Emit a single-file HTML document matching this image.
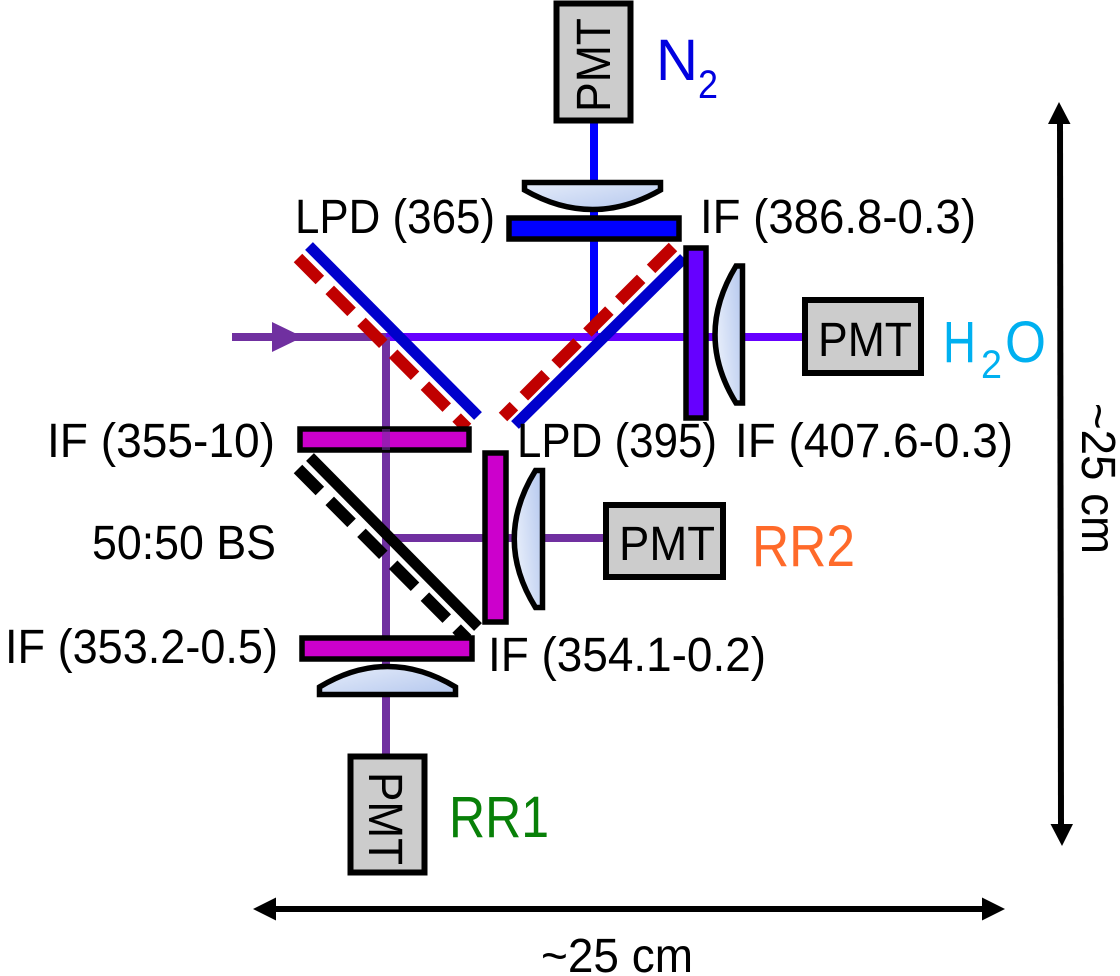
<!DOCTYPE html>
<html><head><meta charset="utf-8"><style>
html,body{margin:0;padding:0;background:#fff}
svg{display:block}
text{font-family:"Liberation Sans",sans-serif;font-size:48px;fill:#000}
</style></head><body>
<svg width="1120" height="976" viewBox="0 0 1120 976" xmlns="http://www.w3.org/2000/svg">
<defs>
<linearGradient id="g1" x1="0" y1="0" x2="1" y2="1"><stop offset="0" stop-color="#e6edfa"/><stop offset="1" stop-color="#b4c7ee"/></linearGradient>
<linearGradient id="g2" x1="1" y1="0" x2="0" y2="0.4"><stop offset="0" stop-color="#b4c7ee"/><stop offset="1" stop-color="#e6edfa"/></linearGradient>
</defs>
<!-- beams -->
<line x1="594" y1="122" x2="594" y2="337" stroke="#0000ff" stroke-width="8"/>
<line x1="232" y1="337" x2="386" y2="337" stroke="#7030a0" stroke-width="8"/>
<line x1="386" y1="337" x2="803" y2="337" stroke="#6600ff" stroke-width="8"/>
<line x1="386" y1="337" x2="386" y2="756" stroke="#7030a0" stroke-width="8"/>
<line x1="386" y1="538" x2="605" y2="538" stroke="#7030a0" stroke-width="8"/>
<polygon points="272,322 303,337 272,352" fill="#7030a0"/>
<!-- mirrors -->
<line x1="309" y1="246" x2="478" y2="416" stroke="#0000cc" stroke-width="11"/>
<line x1="298" y1="258" x2="467" y2="428" stroke="#c00000" stroke-width="12" stroke-dasharray="31 14"/>
<line x1="515" y1="425" x2="684" y2="258" stroke="#0000cc" stroke-width="11"/>
<line x1="673" y1="247" x2="503" y2="417" stroke="#c00000" stroke-width="12" stroke-dasharray="31 14"/>
<line x1="310" y1="457" x2="478" y2="627" stroke="#000" stroke-width="11"/>
<line x1="298" y1="469" x2="467" y2="639" stroke="#000" stroke-width="12" stroke-dasharray="31 14"/>
<!-- filters -->
<rect x="509" y="218" width="170" height="21" fill="#0000ff" stroke="#000" stroke-width="5.5"/>
<rect x="686" y="248" width="20" height="170" fill="#6600ff" stroke="#000" stroke-width="5.5"/>
<rect x="300" y="429" width="169" height="21" fill="#cc00cc" stroke="#000" stroke-width="5.5"/>
<rect x="485" y="453" width="21" height="169" fill="#cc00cc" stroke="#000" stroke-width="5.5"/>
<rect x="302" y="638" width="170" height="21" fill="#cc00cc" stroke="#000" stroke-width="5.5"/>
<line x1="386" y1="429" x2="386" y2="450" stroke="#7030a0" stroke-width="8" opacity=".55"/>
<!-- lenses -->
<path d="M524.5,182.5H660.5V190Q592.5,229 524.5,190Z" fill="url(#g1)" stroke="#000" stroke-width="5.5"/>
<path d="M742.5,266H736Q694,335 736,403H742.5Z" fill="url(#g2)" stroke="#000" stroke-width="5.5"/>
<path d="M542.5,470.5H535.5Q493,539 535.5,607.5H542.5Z" fill="url(#g2)" stroke="#000" stroke-width="5.5"/>
<path d="M319.5,694.5H455.5V687Q387.5,646 319.5,687Z" fill="url(#g1)" stroke="#000" stroke-width="5.5"/>
<!-- PMT boxes -->
<rect x="556.5" y="3.5" width="74" height="117" fill="#cccccc" stroke="#000" stroke-width="6"/>
<rect x="805" y="300" width="116" height="73" fill="#cccccc" stroke="#000" stroke-width="6"/>
<rect x="606" y="505" width="117" height="72" fill="#cccccc" stroke="#000" stroke-width="6"/>
<rect x="350.500" y="756.500" width="74" height="116" fill="#cccccc" stroke="#000" stroke-width="6"/>
<text transform="translate(610,112) rotate(-90)" textLength="94" lengthAdjust="spacingAndGlyphs">PMT</text>
<text x="818" y="356" textLength="94" lengthAdjust="spacingAndGlyphs">PMT</text>
<text x="619" y="560" textLength="96" lengthAdjust="spacingAndGlyphs">PMT</text>
<text transform="translate(369,772) rotate(90)" textLength="93" lengthAdjust="spacingAndGlyphs">PMT</text>
<!-- labels -->
<text x="295" y="233" textLength="200" lengthAdjust="spacingAndGlyphs">LPD (365)</text>
<text x="700" y="233" textLength="276" lengthAdjust="spacingAndGlyphs">IF (386.8-0.3)</text>
<text x="517" y="457" textLength="200" lengthAdjust="spacingAndGlyphs">LPD (395)</text>
<text x="735" y="457" textLength="278" lengthAdjust="spacingAndGlyphs">IF (407.6-0.3)</text>
<text x="47" y="457" textLength="228" lengthAdjust="spacingAndGlyphs">IF (355-10)</text>
<text x="92" y="559" textLength="184" lengthAdjust="spacingAndGlyphs">50:50 BS</text>
<text x="5" y="663" textLength="273" lengthAdjust="spacingAndGlyphs">IF (353.2-0.5)</text>
<text x="488" y="671" textLength="278" lengthAdjust="spacingAndGlyphs">IF (354.1-0.2)</text>
<text x="656" y="80" style="font-size:58px;fill:#0000e0" textLength="42" lengthAdjust="spacingAndGlyphs">N</text>
<text x="698" y="98" style="font-size:40px;fill:#0000e0" textLength="20" lengthAdjust="spacingAndGlyphs">2</text>
<text x="943" y="362" style="font-size:58px;fill:#00b0f0" textLength="33" lengthAdjust="spacingAndGlyphs">H</text>
<text x="981" y="378" style="font-size:40px;fill:#00b0f0" textLength="21" lengthAdjust="spacingAndGlyphs">2</text>
<text x="1005" y="362" style="font-size:58px;fill:#00b0f0" textLength="41" lengthAdjust="spacingAndGlyphs">O</text>
<text x="752" y="566" style="font-size:58px;fill:#ff6a2a" textLength="103" lengthAdjust="spacingAndGlyphs">RR2</text>
<text x="449" y="837" style="font-size:58px;fill:#088008" textLength="100" lengthAdjust="spacingAndGlyphs">RR1</text>
<text x="541" y="972" textLength="152" lengthAdjust="spacingAndGlyphs">~25 cm</text>
<text transform="translate(1082,403) rotate(90)" textLength="151" lengthAdjust="spacingAndGlyphs">~25 cm</text>
<!-- dimension arrows -->
<line x1="1060" y1="120" x2="1061" y2="826" stroke="#000" stroke-width="6"/>
<polygon points="1059,102 1070.500,124 1048,124" fill="#000"/>
<polygon points="1062,846 1050.500,824 1073,824" fill="#000"/>
<line x1="272" y1="909" x2="986" y2="909" stroke="#000" stroke-width="6"/>
<polygon points="253,909 276,897.500 276,920.500" fill="#000"/>
<polygon points="1005,909 982,897.500 982,920.500" fill="#000"/>
</svg>
</body></html>
